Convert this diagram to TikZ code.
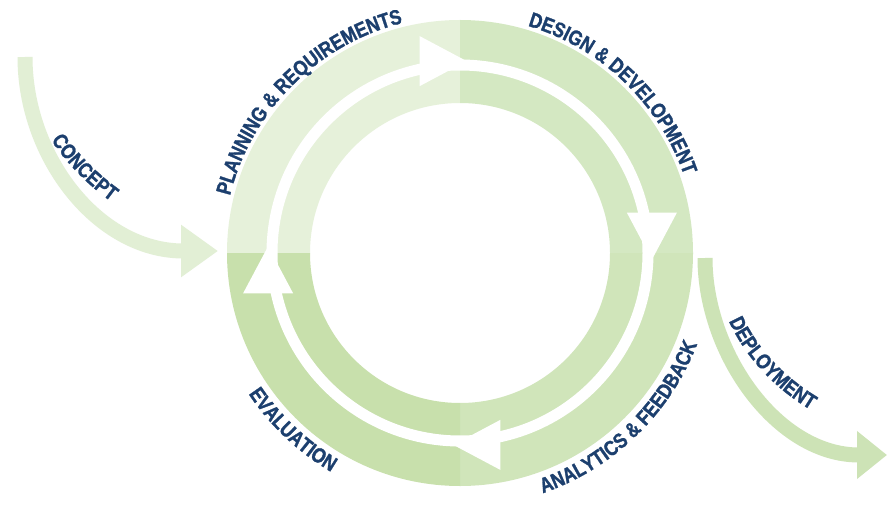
\documentclass[tikz,border=0pt]{standalone}
\usepackage{fontspec}
\newfontfamily\lblfont{Liberation Sans Bold}[FakeStretch=0.84,FakeBold=1.3]
\usetikzlibrary{arrows.meta,decorations.text,calc}
\definecolor{qtl}{HTML}{E6F1DA}
\definecolor{qtr}{HTML}{D4E8C2}
\definecolor{qbr}{HTML}{D0E5BA}
\definecolor{qbl}{HTML}{C8E0AC}
\definecolor{cptc}{HTML}{E2EFD5}
\definecolor{depc}{HTML}{CDE3B6}
\definecolor{navy}{HTML}{1C3F6E}
\newcommand\lblstyle{\lblfont\fontsize{21pt}{22pt}\selectfont}
\newcommand\ringquad[3]{\fill[#1] ($(C)+(#2:233pt)$) arc[start angle=#2,end angle=#3,radius=233pt] -- ($(C)+(#3:150pt)$) arc[start angle=#3,end angle=#2,radius=150pt] -- cycle;}
\newcommand\whitehead[1]{\fill[white] ($(C)+(#1-2:192pt)+(#1+90:47pt)+(#1:25pt)$) -- ($(C)+(#1-2:192pt)+(#1+90:47pt)+(#1+180:25pt)$) -- ($(C)+(#1-2:192pt)$) -- cycle;}
\newcommand\arclabel[4]{\path[lbl={#4}] ($(C)+(#2:#1pt)$) arc[start angle=#2,end angle=#3,radius=#1pt];}
\begin{document}
\begin{tikzpicture}[x=1pt,y=1pt,
  lbl/.style={decorate,decoration={text along path,text align=center,text color=navy,text={|\lblstyle|#1}}},
  cptarrow/.style={draw=cptc,line width=15pt,-{Triangle[width=50pt,length=37pt]}},
  deparrow/.style={draw=depc,line width=15pt,-{Triangle[width=46pt,length=30pt]}}]
\fill[white] (0,0) rectangle (889,507);
\useasboundingbox (0,0) rectangle (889,507);
\coordinate (C) at (460,254);
\ringquad{qtl}{90}{180}
\ringquad{qtr}{0}{90}
\ringquad{qbr}{-90}{0}
\ringquad{qbl}{180}{270}
\draw[white,line width=11pt] (C) circle[radius=188pt];
\whitehead{90}
\whitehead{0}
\whitehead{-90}
\whitehead{180}
\coordinate (cs) at (25,450);
\coordinate (ce) at (218,256);
\draw[cptarrow] (cs) .. controls +(0,-100) and +(-120,0) .. (ce);
\coordinate (ds) at (705,249);
\coordinate (de) at (887,52);
\draw[deparrow] (ds) .. controls +(0,-95) and +(-110,0) .. (de);
\arclabel{237}{180}{90}{PLANNING {\&} REQUIREMENTS}
\arclabel{237}{88}{4.5}{DESIGN {\&} DEVELOPMENT}
\arclabel{254}{-90}{-2}{ANALYTICS {\&} FEEDBACK}
\arclabel{254}{182}{271.2}{EVALUATION}
\path[lbl={CONCEPT}] (30,407) .. controls (50,357) and (90,312) .. (150,282);
\path[lbl={DEPLOYMENT}] (718,217) .. controls (733,157) and (778,109) .. (840,82);
\end{tikzpicture}
\end{document}
